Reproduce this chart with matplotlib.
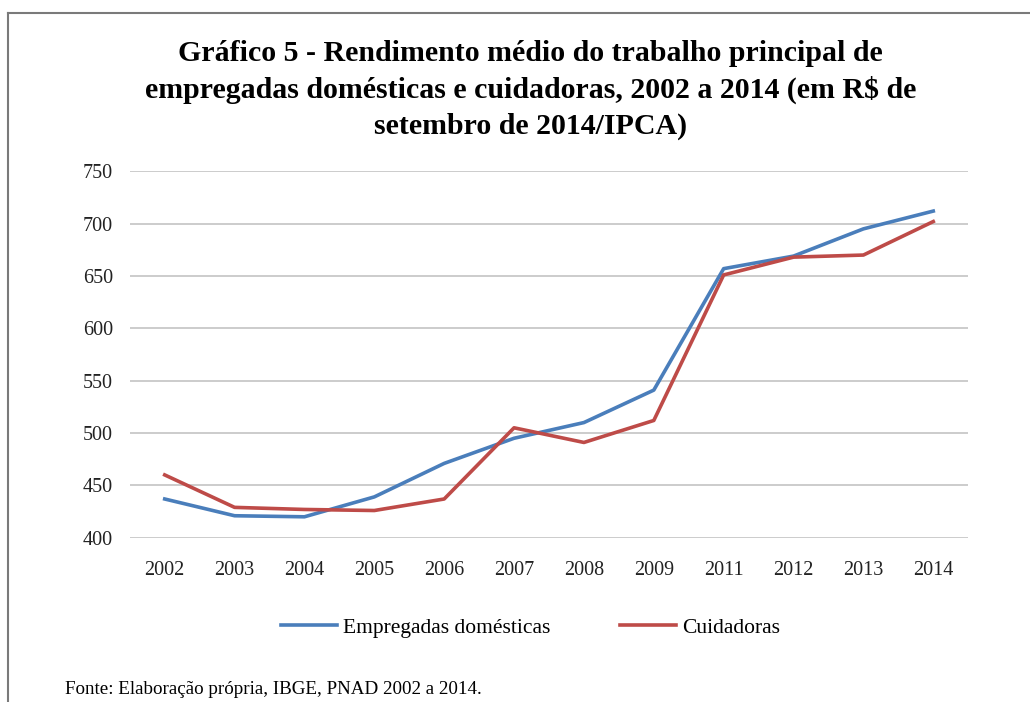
import matplotlib
matplotlib.use('Agg')
import matplotlib.pyplot as plt
from matplotlib.lines import Line2D

# Anos e rendimentos (R$ de set/2014, IPCA)
anos = ['2002', '2003', '2004', '2005', '2006', '2007', '2008', '2009', '2011', '2012', '2013', '2014']
empregadas = [437, 421, 420, 439, 471, 495, 510, 541, 657, 669, 695, 712]
cuidadoras = [460, 429, 427, 426, 437, 505, 491, 512, 651, 668, 670, 702]
y_ticks = [400, 450, 500, 550, 600, 650, 700, 750]

plt.rcParams['font.family'] = ['Liberation Serif', 'DejaVu Serif']

fig = plt.figure(figsize=(10.3, 7.02), dpi=100)
ax = fig.add_axes([0.126, 0.234, 0.814, 0.522])

x = range(len(anos))
ax.plot(x, empregadas, color='#4a7ebb', linewidth=2.6, label='Empregadas domésticas')
ax.plot(x, cuidadoras, color='#be4b48', linewidth=2.6, label='Cuidadoras')

ax.set_xlim(-0.5, len(anos) - 0.5)
ax.set_ylim(400, 750)
ax.set_yticks(y_ticks)
ax.set_xticks(list(x))
ax.set_xticklabels(anos)
ax.tick_params(axis='both', length=0, labelsize=14.5, colors='#222222')
ax.tick_params(axis='y', pad=12)
ax.tick_params(axis='x', pad=17)
ax.grid(True, axis='y', color='#c4c4c4', linewidth=1.2)
ax.set_axisbelow(True)
for s in ax.spines.values():
    s.set_visible(False)

fig.text(0.515, 0.872, 'Gráfico 5 - Rendimento médio do trabalho principal de\n'
         'empregadas domésticas e cuidadoras, 2002 a 2014 (em R$ de\n'
         'setembro de 2014/IPCA)', ha='center', va='center',
         fontsize=21.5, fontweight='bold', linespacing=1.4)

fig.legend(loc='center', bbox_to_anchor=(0.515, 0.106), ncol=2, frameon=False,
           fontsize=15.5, handlelength=2.6, handletextpad=0.3, columnspacing=3.2)

fig.text(0.063, 0.018, 'Fonte: Elaboração própria, IBGE, PNAD 2002 a 2014.',
         fontsize=13.7, ha='left', va='center')

# moldura (topo e lado esquerdo)
fig.add_artist(Line2D([0.0078, 1.0], [0.9815, 0.9815], transform=fig.transFigure,
                      color='#7a7a7a', linewidth=1.5))
fig.add_artist(Line2D([0.0078, 0.0078], [0.0, 0.9815], transform=fig.transFigure,
                      color='#7a7a7a', linewidth=1.5))

fig.savefig('out.png', dpi=100)
